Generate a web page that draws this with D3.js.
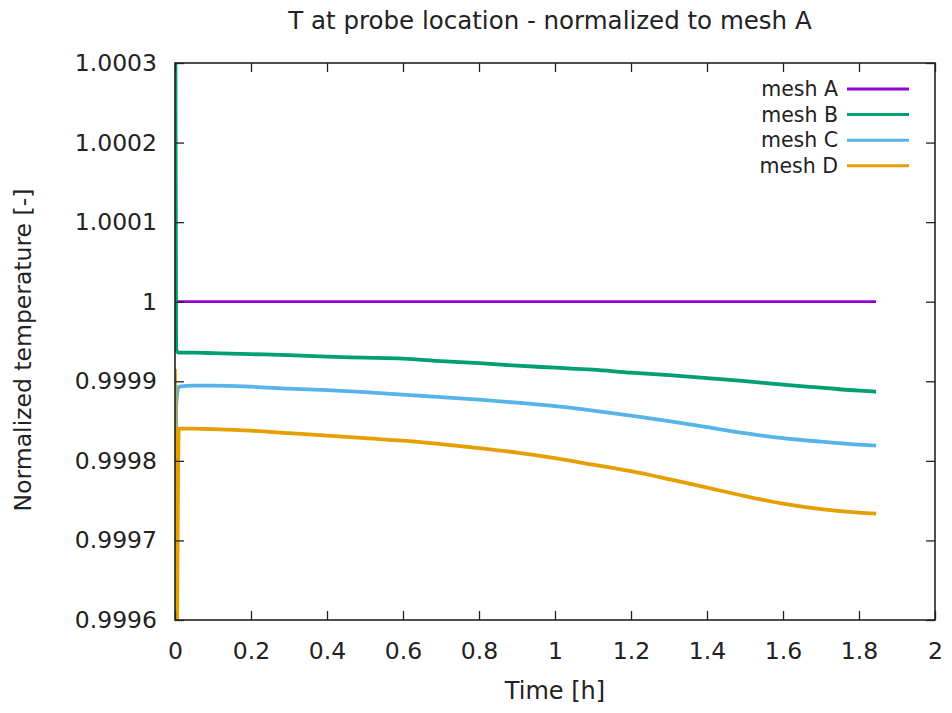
<!DOCTYPE html>
<html>
<head>
<meta charset="utf-8">
<script src="https://cdn.jsdelivr.net/npm/d3@7"></script>
<style>
  html, body { margin: 0; padding: 0; background: #fff; }
  svg { display: block; }
  text { font-family: "DejaVu Sans", sans-serif; fill: #222; }
</style>
</head>
<body>
<svg id="chart" width="952" height="713"></svg>
<script>
// Probe temperature history, each mesh normalized to mesh A
const hours = [0, 0.003, 0.01, 0.05, 0.1, 0.2, 0.3, 0.4, 0.5, 0.6, 0.7, 0.8, 0.9,
               1.0, 1.1, 1.2, 1.3, 1.4, 1.5, 1.6, 1.7, 1.8, 1.845];
const meshA = hours.map(() => 1);
const meshB = [1.0005, 0.99994, 0.9999359, 0.9999359, 0.9999353, 0.9999341, 0.9999328,
               0.9999309, 0.9999297, 0.9999284, 0.9999253, 0.9999227, 0.9999196, 0.9999171,
               0.9999146, 0.9999108, 0.9999077, 0.9999039, 0.9999001, 0.9998957, 0.9998920,
               0.9998882, 0.9998869];
const meshC = [0.9995, 0.99987, 0.9998932, 0.9998945, 0.9998945, 0.9998932, 0.9998907,
               0.9998888, 0.9998863, 0.9998832, 0.9998800, 0.9998769, 0.9998731, 0.9998687,
               0.9998631, 0.9998568, 0.9998499, 0.9998423, 0.9998348, 0.9998285, 0.9998241,
               0.9998204, 0.9998191];
const meshD = [0.999915, 0.9995, 0.9998405, 0.9998405, 0.9998398, 0.9998379, 0.9998348,
               0.9998317, 0.9998285, 0.9998254, 0.9998210, 0.9998160, 0.9998103, 0.9998034,
               0.9997952, 0.9997871, 0.9997770, 0.9997663, 0.9997557, 0.9997462, 0.9997393,
               0.9997349, 0.9997337];

const seriesNames = ["mesh A", "mesh B", "mesh C", "mesh D"];
const seriesValues = [meshA, meshB, meshC, meshD];
const seriesColors = ["#9400d3", "#009e73", "#56b4e9", "#e69f00"];

const xTicks = [0, 0.2, 0.4, 0.6, 0.8, 1, 1.2, 1.4, 1.6, 1.8, 2];
const yTicks = [0.9996, 0.9997, 0.9998, 0.9999, 1, 1.0001, 1.0002, 1.0003];
const yTickLabels = ["0.9996", "0.9997", "0.9998", "0.9999", "1", "1.0001", "1.0002", "1.0003"];

const svg = d3.select("#chart");
const L = 175, R = 935, T = 63, B = 620;

const x = d3.scaleLinear().domain([0, 2]).range([L, R]);
const y = d3.scaleLinear().domain([0.9996, 1.0003]).range([B, T]);

svg.append("defs").append("clipPath").attr("id", "plotClip")
  .append("rect").attr("x", L).attr("y", T).attr("width", R - L).attr("height", B - T);

// Curves
const line = d3.line().x(d => x(d[0])).y(d => y(d[1])).curve(d3.curveMonotoneX);
const plot = svg.append("g").attr("clip-path", "url(#plotClip)");
seriesValues.forEach((vals, i) => {
  plot.append("path")
    .datum(hours.map((h, k) => [h, vals[k]]))
    .attr("fill", "none")
    .attr("stroke", seriesColors[i])
    .attr("stroke-width", i === 0 ? 2.8 : 3.8)
    .attr("stroke-linejoin", "round")
    .attr("d", line);
});

// Axes: ticks pointing inward, mirrored on top and right
const tickLen = 9;
const fmtX = d3.format("");
const axisStyle = g => {
  g.select(".domain").remove();
  g.selectAll(".tick line").attr("stroke", "#222").attr("stroke-width", 1.3);
  g.selectAll(".tick text").attr("font-size", 23.5).attr("fill", "#222")
    .attr("font-family", "DejaVu Sans, sans-serif");
};

svg.append("g").attr("transform", `translate(0,${B})`)
  .call(d3.axisBottom(x).tickValues(xTicks).tickFormat(fmtX).tickSizeInner(-tickLen).tickSizeOuter(0).tickPadding(22))
  .call(axisStyle);
svg.append("g").attr("transform", `translate(0,${T})`)
  .call(d3.axisTop(x).tickValues(xTicks).tickFormat("").tickSizeInner(-tickLen).tickSizeOuter(0))
  .call(axisStyle);
svg.append("g").attr("transform", `translate(${L},0)`)
  .call(d3.axisLeft(y).tickValues(yTicks).tickFormat((d, i) => yTickLabels[i]).tickSizeInner(-tickLen).tickSizeOuter(0).tickPadding(18))
  .call(axisStyle);
svg.append("g").attr("transform", `translate(${R},0)`)
  .call(d3.axisRight(y).tickValues(yTicks).tickFormat("").tickSizeInner(-tickLen).tickSizeOuter(0))
  .call(axisStyle);

// Frame
svg.append("rect").attr("x", L).attr("y", T).attr("width", R - L).attr("height", B - T)
  .attr("fill", "none").attr("stroke", "#222").attr("stroke-width", 1.6);

// Titles
svg.append("text").attr("x", 550).attr("y", 29).attr("text-anchor", "middle")
  .attr("font-size", 24.5).text("T at probe location - normalized to mesh A");
svg.append("text").attr("x", 555).attr("y", 699).attr("text-anchor", "middle")
  .attr("font-size", 24).text("Time [h]");
svg.append("text").attr("transform", "translate(31,350) rotate(-90)").attr("text-anchor", "middle")
  .attr("font-size", 23.5).text("Normalized temperature [-]");

// Legend
const legend = svg.append("g");
seriesNames.forEach((name, i) => {
  const ly = 89 + i * 25.6;
  legend.append("text").attr("x", 838).attr("y", ly + 7).attr("text-anchor", "end")
    .attr("font-size", 20.5).text(name);
  legend.append("line").attr("x1", 847).attr("x2", 909).attr("y1", ly).attr("y2", ly)
    .attr("stroke", seriesColors[i]).attr("stroke-width", 3);
});
</script>
</body>
</html>
